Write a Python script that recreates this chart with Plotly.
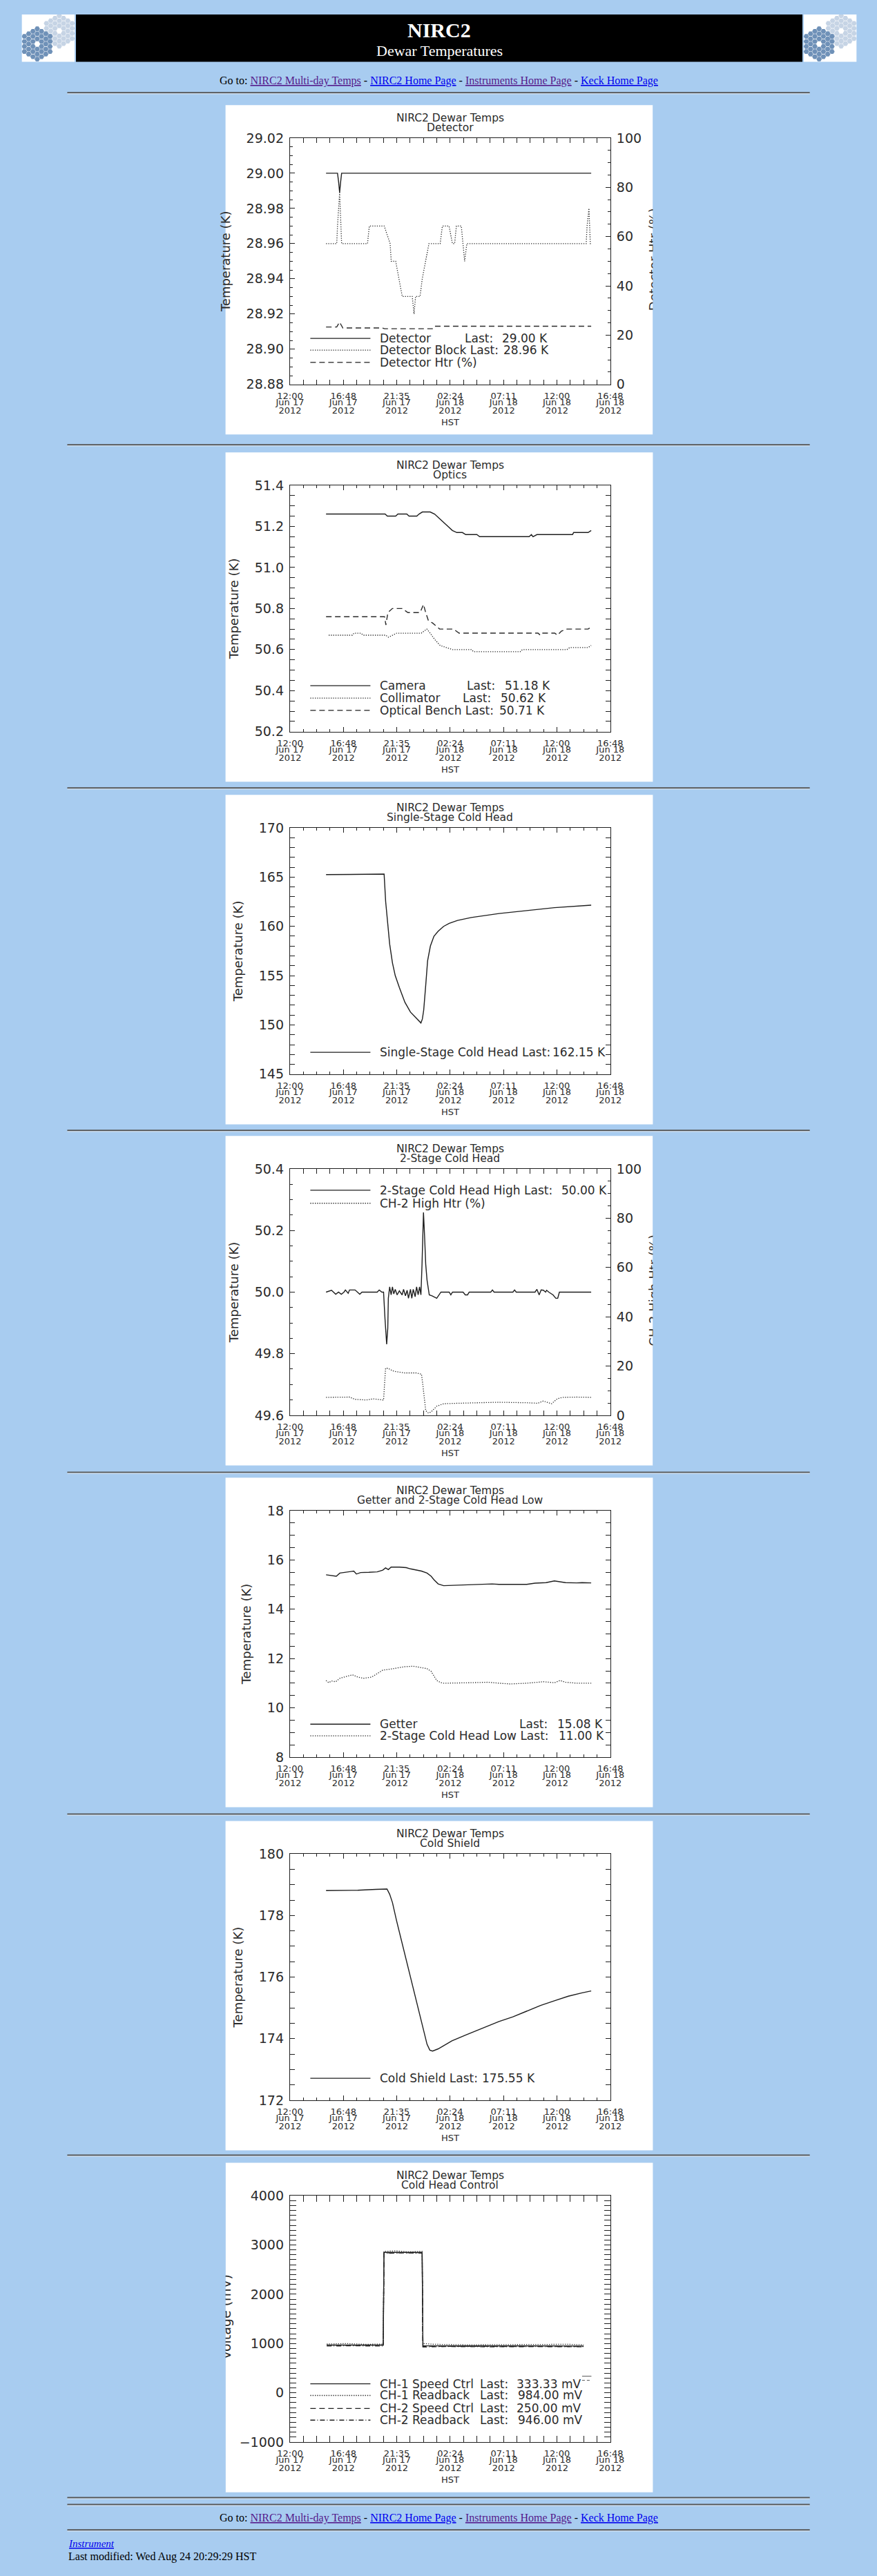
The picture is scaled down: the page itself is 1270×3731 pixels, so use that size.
import math

import numpy as np
import pandas as pd
import plotly.graph_objects as go

W, H = 1270, 3731
PAGE_BG = "#a8ccf0"
INK = "#1e1e1e"
TEXT = "#2b2b2b"
PLOT_FONT = "DejaVu Sans"
PAGE_FONT = "Liberation Serif"
T0 = pd.Timestamp("2012-06-17 12:00")

# time axis, hours after 12:00 HST Jun 17 2012
tick_hours = [0, 4.8, 9.6, 14.4, 19.2, 24.0, 28.8]
tick_clock = ["12:00", "16:48", "21:35", "02:24", "07:11", "12:00", "16:48"]
tick_day = ["Jun 17", "Jun 17", "Jun 17", "Jun 18", "Jun 18", "Jun 18", "Jun 18"]
tick_year = ["2012"] * 7

# ---- Detector ----
det_h = [3.24, 4.27, 4.37, 4.46, 4.55, 4.64, 27.08]
det_k = [29.0, 29.0, 28.995, 28.989, 28.995, 29.0, 29.0]
blk_h = [3.24, 4.20, 4.27, 4.46, 4.64, 6.97, 7.13, 8.47, 9.0, 9.1,
         9.5, 9.79, 10.09, 10.99, 11.15, 11.29, 11.69, 11.89, 12.19, 12.49,
         13.5, 13.7, 14.3, 14.6, 14.8, 14.96, 15.4, 15.55, 15.7, 15.9,
         26.63, 26.71, 26.88, 27.0, 27.08]
blk_k = [28.96, 28.96, 28.97, 28.989, 28.96, 28.96, 28.97, 28.97, 28.96, 28.95,
         28.95, 28.94, 28.93, 28.93, 28.92, 28.93, 28.93, 28.94, 28.95, 28.96,
         28.96, 28.97, 28.97, 28.96, 28.96, 28.97, 28.97, 28.96, 28.95, 28.96,
         28.96, 28.97, 28.98, 28.96, 28.96]
dhtr_h = [3.24, 4.2, 4.45, 4.75, 8.3, 8.5, 12.8, 12.95, 27.08]
dhtr_pct = [23.3, 23.3, 25.3, 22.9, 22.9, 22.6, 22.6, 23.6, 23.6]

# ---- Optics ----
cam_h = [3.24, 8.55, 8.75, 9.5, 9.7, 10.5, 10.7, 11.4, 11.6, 11.9,
         12.6, 13.0, 13.4, 13.8, 14.2, 14.6, 15.0, 15.5, 15.8, 16.8,
         17.05, 21.5, 21.7, 21.85, 22.2, 25.4, 25.5, 26.8, 27.08]
cam_k = [51.26, 51.26, 51.25, 51.25, 51.26, 51.26, 51.25, 51.25, 51.26, 51.27,
         51.27, 51.26, 51.24, 51.22, 51.20, 51.18, 51.17, 51.17, 51.16, 51.16,
         51.15, 51.15, 51.16, 51.15, 51.16, 51.16, 51.17, 51.17, 51.18]
col_h = [3.48, 5.6, 5.75, 6.35, 6.6, 8.6, 8.85, 9.2, 9.6, 11.8,
         12.3, 12.6, 13.0, 13.5, 14.0, 14.6, 16.3, 16.5, 20.7, 20.9,
         24.9, 25.15, 26.8, 27.08]
col_k = [50.67, 50.67, 50.68, 50.68, 50.67, 50.67, 50.66, 50.67, 50.68, 50.68,
         50.70, 50.68, 50.65, 50.62, 50.61, 50.60, 50.60, 50.59, 50.59, 50.60,
         50.60, 50.61, 50.61, 50.62]
ben_h = [3.24, 8.5, 8.62, 8.8, 9.2, 10.1, 10.35, 10.6, 11.7, 12.0,
         12.2, 12.45, 12.8, 13.2, 13.45, 14.7, 14.95, 15.2, 22.3, 22.5,
         22.65, 23.8, 24.05, 24.4, 24.9, 26.8, 27.08]
ben_k = [50.76, 50.76, 50.72, 50.78, 50.80, 50.80, 50.79, 50.78, 50.78, 50.82,
         50.78, 50.74, 50.73, 50.71, 50.70, 50.70, 50.69, 50.68, 50.68, 50.67,
         50.68, 50.68, 50.67, 50.69, 50.70, 50.70, 50.71]

# ---- Single-stage cold head ----
ssch_h = [3.24, 6.2, 6.25, 8.46, 8.6, 8.79, 8.96, 9.21, 9.46, 9.83,
          10.33, 10.83, 11.33, 11.77, 11.9, 12.02, 12.2, 12.37, 12.62, 12.94,
          13.32, 13.81, 14.31, 15.06, 16.3, 18.79, 21.28, 23.77, 27.08]
ssch_k = [165.25, 165.25, 165.3, 165.3, 162.5, 160.0, 158.2, 156.3, 155.0, 153.8,
          152.3, 151.3, 150.7, 150.2, 150.6, 151.5, 154.0, 156.5, 158.0, 159.0,
          159.5, 160.0, 160.3, 160.6, 160.9, 161.3, 161.6, 161.9, 162.15]

# ---- 2-stage cold head ----
tsch_h = [3.24, 3.73, 4.11, 4.36, 4.61, 4.85, 4.98, 5.23, 5.35, 5.85,
          6.27, 6.47, 7.84, 8.02, 8.26, 8.41, 8.54, 8.69, 8.79, 8.84,
          8.96, 9.09, 9.21, 9.33, 9.46, 9.63, 9.83, 10.08, 10.21, 10.38,
          10.53, 10.65, 10.83, 10.95, 11.08, 11.25, 11.38, 11.52, 11.65, 11.77,
          11.87, 12.0, 12.10, 12.20, 12.32, 12.52, 12.77, 13.19, 13.57, 14.31,
          14.46, 14.61, 15.56, 15.76, 15.96, 16.11, 18.05, 18.20, 18.35, 20.04,
          20.19, 20.34, 22.03, 22.20, 22.40, 22.58, 22.78, 22.98, 23.07, 23.27,
          23.65, 23.90, 24.07, 24.22, 27.08]
tsch_k = [50.0, 50.006, 49.993, 50.0, 49.993, 50.0, 50.007, 49.996, 50.007, 50.007,
          49.993, 50.0, 50.0, 50.007, 50.0, 50.0, 49.913, 49.831, 49.883, 49.98,
          50.017, 49.991, 50.017, 49.994, 50.009, 49.991, 50.004, 49.991, 50.009, 49.988,
          50.006, 49.98, 50.009, 49.98, 50.009, 49.985, 50.017, 49.991, 50.017, 49.991,
          50.091, 50.259, 50.18, 50.091, 50.039, 49.991, 49.988, 49.98, 50.0, 50.0,
          49.991, 50.0, 50.0, 49.991, 49.991, 50.0, 50.0, 50.007, 50.0, 50.0,
          50.007, 50.0, 50.0, 50.009, 49.991, 50.007, 50.006, 50.0, 50.006, 50.0,
          49.991, 49.98, 49.98, 50.0, 50.0]
ch2htr_h = [3.24, 5.35, 5.85, 6.85, 7.47, 8.41, 8.59, 8.79, 9.33, 10.33,
            11.33, 11.82, 11.95, 12.20, 12.45, 12.69, 13.19, 13.81, 15.06, 16.30,
            18.79, 21.28, 22.28, 22.78, 23.52, 24.02, 24.52, 25.76, 27.08]
ch2htr_pct = [7.3, 7.4, 6.5, 6.2, 6.7, 6.2, 19.1, 19.1, 17.9, 17.2,
              17.2, 16.7, 12.1, 1.9, 0.9, 1.4, 3.7, 4.7, 4.9, 5.1,
              5.3, 5.1, 4.9, 5.8, 4.7, 6.7, 7.3, 7.4, 7.3]

# ---- Getter and 2-stage low ----
get_h = [3.24, 3.86, 4.16, 4.48, 4.85, 5.35, 5.73, 5.97, 6.35, 7.09,
         7.84, 8.34, 8.59, 8.84, 9.09, 9.83, 10.45, 10.83, 11.33, 11.82,
         12.32, 12.69, 12.94, 13.32, 13.81, 15.06, 16.30, 17.55, 18.17, 18.79,
         20.04, 21.28, 22.03, 23.02, 23.77, 24.27, 24.77, 25.76, 26.26, 27.08]
get_k = [15.40, 15.36, 15.34, 15.47, 15.49, 15.52, 15.55, 15.43, 15.49, 15.50,
         15.52, 15.59, 15.68, 15.61, 15.71, 15.71, 15.69, 15.64, 15.60, 15.55,
         15.47, 15.34, 15.20, 15.03, 14.96, 14.98, 15.01, 15.04, 15.03, 15.01,
         15.01, 15.01, 15.06, 15.08, 15.15, 15.12, 15.08, 15.07, 15.08, 15.07]
low_h = [3.24, 3.48, 3.73, 4.11, 4.48, 4.85, 5.60, 6.10, 6.60, 7.34,
         7.84, 8.34, 8.84, 9.58, 10.33, 11.08, 11.70, 12.32, 12.69, 12.94,
         13.19, 13.57, 13.81, 16.30, 17.80, 18.79, 19.79, 21.28, 22.78, 23.77,
         24.27, 24.77, 25.76, 27.08]
low_k = [11.11, 11.02, 11.09, 11.06, 11.20, 11.25, 11.34, 11.25, 11.20, 11.25,
         11.39, 11.53, 11.56, 11.62, 11.67, 11.69, 11.65, 11.59, 11.48, 11.30,
         11.11, 11.02, 11.00, 11.02, 11.04, 11.00, 10.97, 11.00, 11.06, 11.02,
         11.11, 11.04, 11.00, 11.00]

# ---- Cold shield ----
cs_h = [3.24, 6.1, 7.72, 8.72, 8.96, 9.21, 9.58, 10.08, 10.58, 11.08,
        11.57, 12.07, 12.32, 12.57, 12.82, 13.32, 13.81, 14.56, 15.81, 17.55,
        18.79, 20.04, 21.28, 22.53, 23.77, 25.02, 26.26, 27.08]
cs_k = [178.81, 178.82, 178.85, 178.86, 178.69, 178.42, 177.83, 177.09, 176.34, 175.64,
        174.86, 174.19, 173.82, 173.63, 173.60, 173.67, 173.78, 173.93, 174.12, 174.38,
        174.56, 174.71, 174.90, 175.08, 175.23, 175.38, 175.49, 175.55]

# ---- Cold head control ----
c1ctl_h = [3.30, 8.38, 8.45, 11.88, 11.95, 26.40]
c1ctl_mv = [970, 970, 2850, 2850, 955, 950]
c1rb_h = [3.30, 5.0, 6.8, 8.38, 8.45, 9.5, 10.7, 11.88, 11.95, 13.0,
          16.0, 19.0, 22.0, 25.0, 26.40]
c1rb_mv = [990, 1000, 985, 990, 2870, 2880, 2860, 2870, 1000, 985,
           975, 980, 975, 985, 975]
c2ctl_h = [3.30, 8.38, 8.45, 11.88, 11.95, 26.40]
c2ctl_mv = [965, 968, 2840, 2845, 945, 940]
c2rb_h = [3.30, 5.5, 8.38, 8.45, 10.0, 11.88, 11.95, 14.0, 18.0, 22.0, 26.40]
c2rb_mv = [950, 955, 950, 2830, 2840, 2835, 930, 940, 935, 940, 935]

DOT = "1.3px,2px"
DASH = "8px,5px"
DASHDOT = "7px,3px,1px,3px"

# legend rows: (line style, label, x of a padded "Last:", x of value, value)
panels = [
    dict(top=142, sub="Detector", y=(28.88, 29.02, 0.02, 0.005, ".2f"),
         lines=[(det_h, det_k, "solid", 0), (blk_h, blk_k, DOT, 0), (dhtr_h, dhtr_pct, DASH, 1)],
         right=(0, 100, 20, 5), clip=("right", "Detector Htr (%)"),
         rows=[340, 357, 375],
         legend=[("solid", "Detector", 670.7, 726.7, "29.00 K"),
                 (DOT, "Detector Block Last:", None, 728.7, "28.96 K"),
                 (DASH, "Detector Htr (%)", None, None, None)]),
    dict(top=648, sub="Optics", y=(50.2, 51.4, 0.2, 0.05, ".1f"),
         lines=[(cam_h, cam_k, "solid", 0), (col_h, col_k, DOT, 0), (ben_h, ben_k, DASH, 0)],
         right=None, clip=None, rows=[340, 358, 376],
         legend=[("solid", "Camera", 674, 730.8, "51.18 K"),
                 (DOT, "Collimator", 668.6, 724.6, "50.62 K"),
                 (DASH, "Optical Bench Last:", None, 722.5, "50.71 K")]),
    dict(top=1147, sub="Single-Stage Cold Head", y=(145, 170, 5, 1, "d"),
         lines=[(ssch_h, ssch_k, "solid", 0)], right=None, clip=None, rows=[375],
         legend=[("solid", "Single-Stage Cold Head Last:", None, 802.5, "162.15 K")]),
    dict(top=1644, sub="2-Stage Cold Head", y=(49.6, 50.4, 0.2, 0.05, ".1f"),
         lines=[(tsch_h, tsch_k, "solid", 0), (ch2htr_h, ch2htr_pct, DOT, 1)],
         right=(0, 100, 20, 5), clip=("right", "CH-2 High Htr (%)"), rows=[79, 98],
         legend=[("solid", "2-Stage Cold Head High Last:", None, 816, "50.00 K"),
                 (DOT, "CH-2 High Htr (%)", None, None, None)]),
    dict(top=2142, sub="Getter and 2-Stage Cold Head Low", y=(8, 18, 2, 0.5, "d"),
         lines=[(get_h, get_k, "solid", 0), (low_h, low_k, DOT, 0)],
         right=None, clip=None, rows=[359, 376],
         legend=[("solid", "Getter", 753, 810, "15.08 K"),
                 (DOT, "2-Stage Cold Head Low Last:", None, 812, "11.00 K")]),
    dict(top=2642, sub="Cold Shield", y=(172, 180, 2, 0.5, "d"),
         lines=[(cs_h, cs_k, "solid", 0)], right=None, clip=None, rows=[375],
         legend=[("solid", "Cold Shield Last:", None, 697, "175.55 K")]),
    dict(top=3140, sub="Cold Head Control", y=(-1000, 4000, 1000, 100, "d"),
         lines=[(c1ctl_h, c1ctl_mv, "solid", 0), (c1rb_h, c1rb_mv, DOT, 0),
                (c2ctl_h, c2ctl_mv, DASH, 0), (c2rb_h, c2rb_mv, DASHDOT, 0)],
         right=None, clip=("left", "Voltage (mV)"), rows=[322, 339, 358, 375],
         legend=[("solid", "CH-1 Speed Ctrl", 693.5, 748.6, "333.33 mV"),
                 (DOT, "CH-1 Readback", 693.5, 750.7, "984.00 mV"),
                 (DASH, "CH-2 Speed Ctrl", 693.5, 748.6, "250.00 mV"),
                 (DASHDOT, "CH-2 Readback", 693.5, 750.7, "946.00 mV")]),
]

hr_rows = [124, 637, 1137, 1636, 2134, 2632, 3129, 3628, 3638, 3675]

BOX_L, BOX_R = 315, 955
PLOT_L, PLOT_R = 411.6, 891.3


def fx(x):
    return x / W


def fy(y):
    return 1 - y / H


def stamp(hours):
    return [T0 + pd.Timedelta(hours=h) for h in hours]


def steps(lo, hi, step):
    return np.round(np.arange(lo, hi + step / 2, step), 6).tolist()


counters = {"x": 0, "y": 0}


def new_axis(letter):
    counters[letter] += 1
    n = counters[letter]
    return (f"{letter}axis" if n == 1 else f"{letter}axis{n}"), (letter if n == 1 else f"{letter}{n}")


fig = go.Figure()
layout = {}
shapes = []
annotations = []

minor_hours = [i * 1.2 for i in range(25) if i % 4]
xrange_ = [T0, T0 + pd.Timedelta(hours=28.8)]
tick_font = dict(family=PLOT_FONT, size=13, color=TEXT)


def text(x, y, s, size, anchor="center", color=TEXT, family=PLOT_FONT):
    annotations.append(dict(x=fx(x), y=fy(y), xref="paper", yref="paper", text=s,
                            showarrow=False, xanchor=anchor, yanchor="middle",
                            font=dict(family=family, size=size, color=color)))


for p in panels:
    B = p["top"]
    p_top, p_bot = B + 48, B + 407
    lo, hi, major, minor, fmt = p["y"]
    big = 9 if p["sub"] == "Cold Head Control" else 7
    small = 5 if p["sub"] == "Cold Head Control" else 4

    shapes.append(dict(type="rect", xref="paper", yref="paper", layer="below",
                       x0=fx(BOX_L), x1=fx(BOX_R), y0=fy(B + 480), y1=fy(B),
                       fillcolor="white", line=dict(width=0)))

    xk, xr = new_axis("x")
    yk, yr = new_axis("y")
    layout[xk] = dict(domain=[fx(PLOT_L), fx(PLOT_R)], anchor=yr, type="date", range=xrange_,
                      tickmode="array", tickvals=stamp(tick_hours), ticktext=tick_clock,
                      ticks="inside", ticklen=big, tickwidth=1.2, tickcolor=INK,
                      showline=True, linecolor=INK, linewidth=1.4, mirror="allticks",
                      showgrid=False, zeroline=False, tickfont=tick_font, ticklabelstandoff=4,
                      minor=dict(tickvals=stamp(minor_hours), ticks="inside", ticklen=small,
                                 tickwidth=1, tickcolor=INK, showgrid=False))
    # date and year rows of the time labels
    for labels, off in [(tick_day, 12), (tick_year, 24)]:
        xk2, xr2 = new_axis("x")
        layout[xk2] = dict(overlaying=xr, anchor="free", position=fy(p_bot + off), type="date",
                           range=xrange_, tickmode="array", tickvals=stamp(tick_hours),
                           ticktext=labels, ticks="", showline=False, showgrid=False,
                           zeroline=False, tickfont=tick_font, ticklabelstandoff=4)
        fig.add_trace(go.Scatter(x=[], y=[], xaxis=xr2, yaxis=yr, showlegend=False))

    ymaj = steps(lo, hi, major)
    ymin = steps(lo, hi, minor)
    yaxis = dict(domain=[fy(p_bot), fy(p_top)], anchor=xr, range=[lo, hi],
                 tickmode="array", tickvals=ymaj, tickformat=fmt,
                 ticks="inside", ticklen=big, tickwidth=1.2, tickcolor=INK,
                 showline=True, linecolor=INK, linewidth=1.4,
                 mirror=False if p["right"] else "allticks",
                 showgrid=False, zeroline=False, ticklabelstandoff=4,
                 tickfont=dict(family=PLOT_FONT, size=19, color=TEXT),
                 minor=dict(tickvals=ymin, ticks="inside", ticklen=small, tickwidth=1,
                            tickcolor=INK, showgrid=False))
    if not (p["clip"] and p["clip"][0] == "left"):
        yaxis["title"] = dict(text="Temperature (K)", standoff=18,
                              font=dict(family=PLOT_FONT, size=18, color=TEXT))
    layout[yk] = yaxis

    yrefs = [yr]
    if p["right"]:
        rlo, rhi, rmaj, rmin = p["right"]
        yk2, yr2 = new_axis("y")
        layout[yk2] = dict(overlaying=yr, side="right", anchor=xr, range=[rlo, rhi],
                           tickmode="array", tickvals=steps(rlo, rhi, rmaj),
                           ticks="inside", ticklen=big, tickwidth=1.2, tickcolor=INK,
                           showline=True, linecolor=INK, linewidth=1.4,
                           showgrid=False, zeroline=False, ticklabelstandoff=4,
                           tickfont=dict(family=PLOT_FONT, size=19, color=TEXT),
                           minor=dict(tickvals=steps(rlo, rhi, rmin), ticks="inside",
                                      ticklen=small, tickwidth=1, tickcolor=INK, showgrid=False))
        yrefs.append(yr2)

    # axis titles that run off the edge of the plot image
    if p["clip"]:
        side, label = p["clip"]
        yk3, yr3 = new_axis("y")
        pos = 943 if side == "right" else 327
        layout[yk3] = dict(overlaying=yr, anchor="free", position=fx(pos), side=side,
                           range=[0, 1], tickmode="array", tickvals=[0.5], ticktext=[label],
                           tickangle=-90, ticks="", showline=False, showgrid=False,
                           zeroline=False,
                           tickfont=dict(family=PLOT_FONT, size=19 if side == "left" else 18,
                                         color=TEXT))
        fig.add_trace(go.Scatter(x=[], y=[], xaxis=xr, yaxis=yr3, showlegend=False))
        x0, x1 = (BOX_R, BOX_R + 60) if side == "right" else (BOX_L - 60, BOX_L)
        shapes.append(dict(type="rect", xref="paper", yref="paper", layer="above",
                           x0=fx(x0), x1=fx(x1), y0=fy(B + 480), y1=fy(B),
                           fillcolor=PAGE_BG, line=dict(width=0)))

    for hours, vals, dash, which in p["lines"]:
        fig.add_trace(go.Scatter(
            x=stamp(hours), y=vals, mode="lines", xaxis=xr, yaxis=yrefs[which],
            line=dict(color=INK if dash == "solid" else "#2a2a2a",
                      width=1.4 if dash != DOT else 1.3, dash=dash),
            showlegend=False, hoverinfo="skip"))

    cx = (PLOT_L + PLOT_R) / 2
    text(cx, B + 18.5, "NIRC2 Dewar Temps", 15.5)
    text(cx, B + 33, p["sub"], 15.5)
    text(cx, B + 462, "HST", 13)

    for row, (dash, name, last_x, val_x, val) in zip(p["rows"], p["legend"]):
        y = B + row
        shapes.append(dict(type="line", xref="paper", yref="paper", layer="above",
                           x0=fx(442), x1=fx(532), y0=fy(y), y1=fy(y),
                           line=dict(color=INK, width=1.3, dash=dash)))
        text(544, y, name, 17, anchor="left")
        if last_x:
            text(last_x, y, "Last:", 17, anchor="left")
        if val_x:
            text(val_x, y, val, 17, anchor="left")

# stray legend mark in the control panel
for y, dash in [(3451, "solid"), (3457, "4px,3px")]:
    shapes.append(dict(type="line", xref="paper", yref="paper", layer="above",
                       x0=fx(849), x1=fx(863), y0=fy(y), y1=fy(y),
                       line=dict(color="#555555", width=1, dash=dash)))

# horizontal rules
for y in hr_rows:
    shapes.append(dict(type="line", xref="paper", yref="paper", x0=fx(78), x1=fx(1190),
                       y0=fy(y), y1=fy(y), line=dict(color="#555555", width=2)))
    shapes.append(dict(type="line", xref="paper", yref="paper", x0=fx(78), x1=fx(1190),
                       y0=fy(y + 1.6), y1=fy(y + 1.6), line=dict(color="#dfe6ee", width=1)))

# page header
shapes.append(dict(type="rect", xref="paper", yref="paper", layer="below",
                   x0=fx(91), x1=fx(1179), y0=fy(79), y1=fy(10),
                   fillcolor="black", line=dict(width=0)))
text(635, 33, "<b>NIRC2</b>", 30, color="white", family=PAGE_FONT)
text(635, 63, "Dewar Temperatures", 22, color="white", family=PAGE_FONT)

# Keck mirror logos
hex_q, hex_r = [], []
for q in range(-3, 4):
    for r in range(-3, 4):
        if max(abs(q), abs(r), abs(q + r)) <= 3 and (q, r) != (0, 0):
            hex_q.append(q)
            hex_r.append(r)
seg = 4.27
for left in (10, 1181):
    shapes.append(dict(type="rect", xref="paper", yref="paper", layer="below",
                       x0=fx(left), x1=fx(left + 79), y0=fy(79), y1=fy(10),
                       fillcolor="white", line=dict(width=0)))
    xk, xr = new_axis("x")
    yk, yr = new_axis("y")
    layout[xk] = dict(domain=[fx(left), fx(left + 79)], range=[0, 79], visible=False, anchor=yr)
    layout[yk] = dict(domain=[fy(79), fy(10)], range=[69, 0], visible=False, anchor=xr)
    for (cx, cy), colour in [((56, 24), "#c6d4e5"), ((23, 43), "#6f91b8")]:
        fig.add_trace(go.Scatter(
            x=[cx + 1.5 * seg * q for q in hex_q],
            y=[cy + math.sqrt(3) * seg * (r + q / 2) for q, r in zip(hex_q, hex_r)],
            mode="markers", xaxis=xr, yaxis=yr, showlegend=False, hoverinfo="skip",
            marker=dict(symbol="hexagon2", size=7.8, color=colour, line=dict(width=0))))

goto = ("Go to: <span style='color:#551a8b'><u>NIRC2 Multi-day Temps</u></span> - "
        "<span style='color:#0000ee'><u>NIRC2 Home Page</u></span> - "
        "<span style='color:#551a8b'><u>Instruments Home Page</u></span> - "
        "<span style='color:#0000ee'><u>Keck Home Page</u></span>")
text(634, 107, goto, 16, color="black", family=PAGE_FONT)
text(634, 3658, goto, 16, color="black", family=PAGE_FONT)
text(78, 3695, "<i><u>Instrument</u></i>", 15, anchor="left", color="#0000ee", family=PAGE_FONT)
text(78, 3714, "Last modified: Wed Aug 24 20:29:29 HST", 16, anchor="left", color="black",
     family=PAGE_FONT)

fig.update_layout(
    width=W, height=H, margin=dict(l=0, r=0, t=0, b=0),
    paper_bgcolor=PAGE_BG, plot_bgcolor="rgba(0,0,0,0)",
    showlegend=False, shapes=shapes, annotations=annotations,
    **layout,
)
# the page itself should not add a margin round the figure
fig.write_html("out.html", config={"displayModeBar": False},
               post_script="document.body.style.margin='0';"
                           "document.body.style.background='" + PAGE_BG + "';")
